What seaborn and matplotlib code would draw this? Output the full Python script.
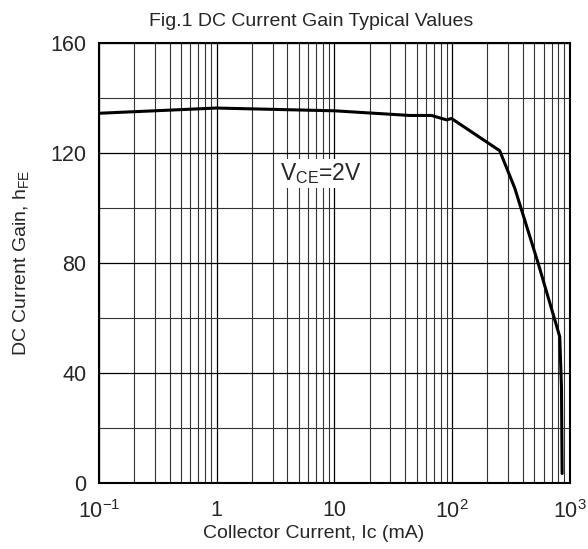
import numpy as np
import pandas as pd
import matplotlib
matplotlib.use("Agg")
import matplotlib.pyplot as plt
import matplotlib.ticker as mticker
import seaborn as sns

# values
ic_ma = [0.1, 1.0, 10, 44, 67, 90, 99, 254, 341, 538, 822, 850, 861]
hfe = [134.4, 136.3, 135.3, 133.6, 133.6, 132.0, 132.5, 120.8, 107.2, 80.0, 53.2, 35.0, 3.5]

x_ticks = [0.1, 1, 10, 100, 1000]
x_tick_labels = ['10$^{-1}$', '1', '10', '10$^{2}$', '10$^{3}$']
y_ticks = [0, 40, 80, 120, 160]

df = pd.DataFrame({'Ic': ic_ma, 'hFE': hfe})

sns.set_style("white")
plt.rcParams['font.family'] = ['Liberation Sans', 'DejaVu Sans']
plt.rcParams['mathtext.fontset'] = 'custom'
plt.rcParams['mathtext.rm'] = 'Liberation Sans'
plt.rcParams['mathtext.it'] = 'Liberation Sans'
plt.rcParams['mathtext.default'] = 'regular'

fig = plt.figure(figsize=(5.88, 5.49), dpi=100)
ax = fig.add_axes([0.168, 0.120, 0.801, 0.802])

sns.lineplot(data=df, x='Ic', y='hFE', ax=ax, color='black', linewidth=2.2,
             sort=False, zorder=5)

ax.set_xscale('log')
ax.set_xlim(0.1, 1000)
ax.set_ylim(0, 160)

ax.set_xticks(x_ticks)
ax.set_xticklabels(x_tick_labels)
ax.xaxis.set_minor_locator(mticker.LogLocator(base=10, subs=np.arange(2, 10)))
ax.xaxis.set_minor_formatter(mticker.NullFormatter())
ax.set_yticks(y_ticks)
ax.set_yticks([20, 60, 100, 140], minor=True)

ax.grid(True, which='major', color='black', linewidth=0.9)
ax.grid(True, which='minor', color='#333333', linewidth=0.8)
ax.tick_params(which='both', length=0, labelsize=15.5)
ax.tick_params(axis='x', pad=12)
ax.tick_params(axis='y', pad=9)

for s in ax.spines.values():
    s.set_color('black')
    s.set_linewidth(1.5)
    s.set_zorder(6)

ax.set_xlabel('Collector Current, Ic (mA)', fontsize=14, labelpad=2, x=0.456)
ax.set_ylabel('DC Current Gain, h$_{FE}$', fontsize=14, labelpad=14)
ax.set_title('Fig.1 DC Current Gain Typical Values', fontsize=14, pad=12, x=0.45)

ax.text(7.7, 112.5, 'V$_{CE}$=2V', fontsize=16.5, ha='center', va='center', zorder=4,
        bbox=dict(facecolor='white', edgecolor='none', pad=1.5))

fig.savefig('out.png', dpi=100)
